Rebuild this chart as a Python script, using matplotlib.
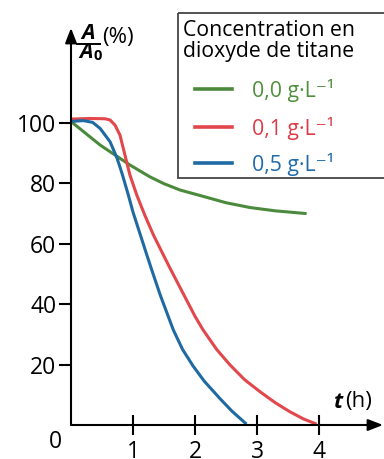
import matplotlib
matplotlib.use("Agg")
import matplotlib.pyplot as plt
from matplotlib import transforms
from matplotlib.patches import Rectangle
from matplotlib.lines import Line2D

plt.rcParams['font.family'] = ['Open Sans', 'DejaVu Sans']

# Absorbance ratio A/A0 (%) versus time t (h) for three TiO2 concentrations
t_00 = [0, 0.47, 0.71, 0.95, 1.27, 1.5, 1.76, 2.08, 2.5, 2.89, 3.3, 3.8]
v_00 = [100.5, 92.7, 89.4, 86.1, 82.2, 79.9, 77.8, 76.0, 73.6, 72.0, 70.9, 70.0]

t_01 = [0, 0.3, 0.55, 0.63, 0.71, 0.79, 0.87, 0.95, 1.06, 1.19, 1.33, 1.49,
        1.6, 1.81, 2.0, 2.13, 2.35, 2.56, 2.8, 3.05, 3.3, 3.53, 3.75, 3.96]
v_01 = [101.3, 101.5, 101.4, 101.0, 99.3, 96.0, 89.4, 82.8, 76.2, 69.5, 62.9,
        56.3, 51.8, 43.5, 36.0, 31.5, 25.0, 20.0, 15.0, 11.0, 7.3, 4.4, 2.0, 0.3]

t_05 = [0, 0.2, 0.35, 0.47, 0.63, 0.74, 0.82, 0.92, 1.0, 1.11, 1.22, 1.3,
        1.44, 1.65, 1.8, 1.97, 2.15, 2.4, 2.6, 2.83]
v_05 = [100.5, 100.8, 100.2, 98.2, 93.8, 88.5, 83.5, 76.5, 70.5, 63.5, 56.5,
        51.5, 43.0, 31.5, 25.0, 19.5, 14.5, 8.8, 4.5, 0.3]

series_labels = ['0,0 g·L⁻¹', '0,1 g·L⁻¹', '0,5 g·L⁻¹']
series_colors = ['#4b8a3c', '#e2474c', '#1f6aa3']
text_colors = ['#4f8f3c', '#dd3a48', '#1f6aa8']

x_ticks = [1, 2, 3, 4]
y_ticks = [20, 40, 60, 80, 100]

W, H = 384, 459
fig = plt.figure(figsize=(W / 100, H / 100), dpi=100)
px = transforms.Affine2D().scale(1 / W, -1 / H).translate(0, 1) + fig.transFigure

# axes placed so t=0 sits at x=71 px and 0 % at y=425 px
x0, xs = 71, 62.0
y0, ys = 425, 3.02
ax = fig.add_axes([x0 / W, (H - y0) / H, (W - 1 - x0) / W, (y0 - 28) / H])
ax.set_xlim(0, (W - 1 - x0) / xs)
ax.set_ylim(0, (y0 - 28) / ys)
ax.patch.set_alpha(0)
for s in ax.spines.values():
    s.set_visible(False)

lw_curve = 2.2
for tt, vv, c in zip([t_00, t_01, t_05], [v_00, v_01, v_05], series_colors):
    ax.plot(tt, vv, color=c, lw=lw_curve, solid_capstyle='butt',
            solid_joinstyle='round', clip_on=False)

# axes with arrow heads
arrow = dict(arrowstyle='-|>,head_length=0.9,head_width=0.35', lw=1.5, color='k',
             shrinkA=0, shrinkB=0)
ax.annotate('', xy=(ax.get_xlim()[1], 0), xytext=(0, 0), arrowprops=arrow,
            annotation_clip=False)
ax.annotate('', xy=(0, ax.get_ylim()[1]), xytext=(0, 0), arrowprops=arrow,
            annotation_clip=False)

ax.set_xticks(x_ticks)
ax.set_xticklabels([str(v) for v in x_ticks])
ax.set_yticks(y_ticks)
ax.set_yticklabels([str(v) for v in y_ticks])
ax.tick_params(axis='y', direction='out', length=9, width=1.5, pad=1.5,
               labelsize=16.5)
ax.tick_params(axis='x', direction='inout', length=14, width=1.5, pad=3.5,
               labelsize=16.5)

fig.text(55, 442, '0', transform=px, fontsize=16.5, ha='center', va='center')

# y-axis label: A/A0 (%)
fig.text(88.5, 33.5, 'A', transform=px, fontsize=15.5, fontweight='bold',
         fontstyle='italic', ha='center', va='center')
fig.add_artist(Line2D([77, 100], [43.5, 43.5], transform=px, color='k', lw=1.4))
fig.text(86, 52.5, 'A', transform=px, fontsize=15.5, fontweight='bold',
         fontstyle='italic', ha='center', va='center')
fig.text(97.5, 56, '0', transform=px, fontsize=10.5, fontweight='bold',
         ha='center', va='center')
fig.text(102, 37, '(%)', transform=px, fontsize=16, ha='left', va='center')

# x-axis label: t (h)
fig.text(334, 402, 't', transform=px, fontsize=16, fontweight='bold',
         fontstyle='italic', ha='left', va='center')
fig.text(345, 402, '(h)', transform=px, fontsize=16, ha='left', va='center')

# legend box
fig.add_artist(Rectangle((178, 13), 220, 165, transform=px, fill=False,
                         edgecolor='#444444', lw=1.3))
fig.text(183, 31, 'Concentration en', transform=px, fontsize=15.3,
         ha='left', va='center')
fig.text(183, 51, 'dioxyde de titane', transform=px, fontsize=15.3,
         ha='left', va='center')
rows_y = [89, 127, 163]
for yy, lab, c, tc in zip(rows_y, series_labels, series_colors, text_colors):
    fig.add_artist(Line2D([195, 232], [yy, yy], transform=px, color=c, lw=2.6))
    fig.text(252, yy + 1, lab, transform=px, fontsize=15.3, color=tc,
             ha='left', va='center')

fig.savefig('out.png', dpi=100)
